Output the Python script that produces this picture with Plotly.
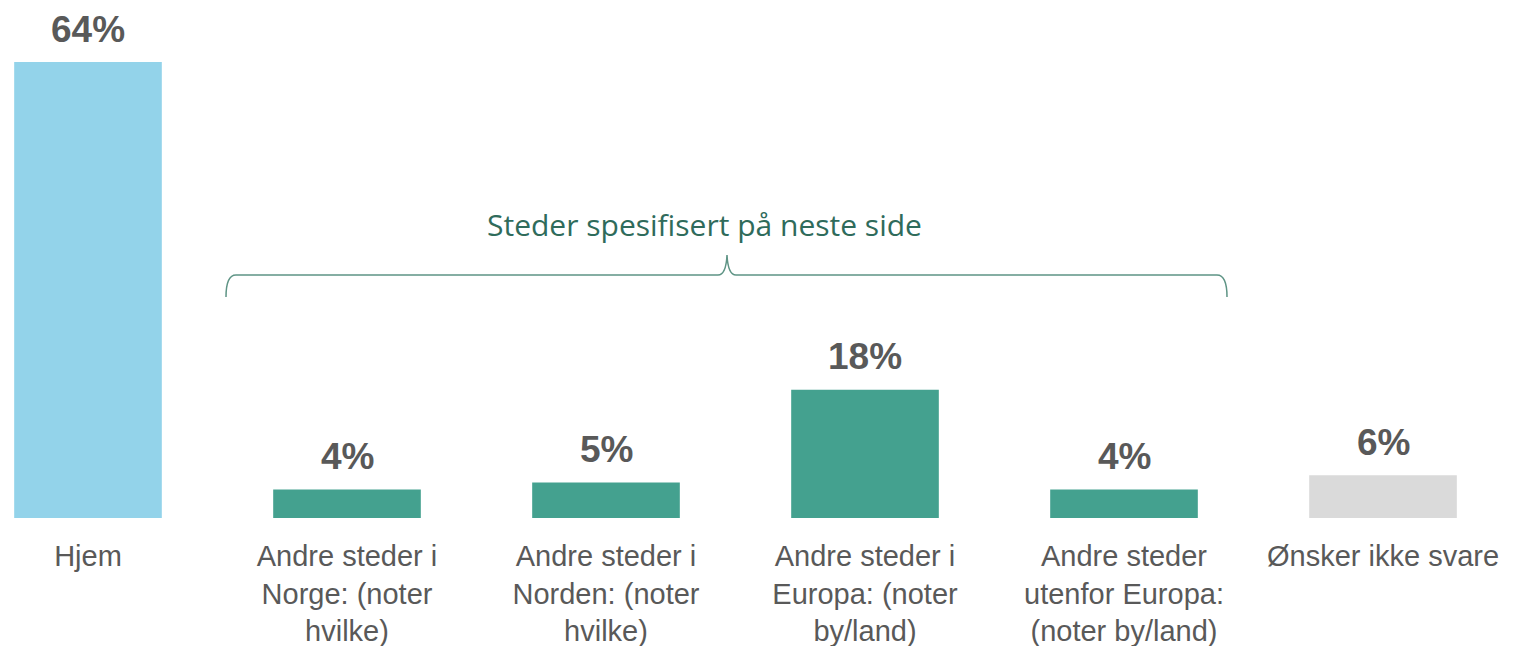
import plotly.graph_objects as go

categories = [
    "Hjem",
    "Andre steder i<br>Norge: (noter<br>hvilke)",
    "Andre steder i<br>Norden: (noter<br>hvilke)",
    "Andre steder i<br>Europa: (noter<br>by/land)",
    "Andre steder<br>utenfor Europa:<br>(noter by/land)",
    "Ønsker ikke svare",
]
values = [64, 4, 5, 18, 4, 6]
colors = ["#93D3EA", "#44A18F", "#44A18F", "#44A18F", "#44A18F", "#DADADA"]

# page body adds an 8px margin, so the figure itself is 8px smaller on each axis
OFF = 8
W, H = 1520 - OFF, 646 - OFF
PLOT_H = 518 - OFF  # baseline pixel inside the figure

fig = go.Figure(go.Bar(x=categories, y=values, marker_color=colors, marker_line_width=0))

for c, v in zip(categories, values):
    fig.add_annotation(x=c, y=v, text=f"<b>{v}%</b>", showarrow=False, yanchor="middle", yshift=33,
                       font=dict(family="Liberation Sans, Arial", size=37, color="#595959"))


def px(x, y):
    # reference-image pixel -> paper coords
    return f"{(x - OFF) / W:.5f},{(PLOT_H - (y - OFF)) / PLOT_H:.5f}"


# curly brace over the middle four bars
brace = ("M " + px(226, 297) + " Q " + px(226, 275) + " " + px(236, 275)
         + " L " + px(718, 275) + " Q " + px(726, 275) + " " + px(727, 255)
         + " Q " + px(728, 275) + " " + px(736, 275)
         + " L " + px(1217, 275) + " Q " + px(1227, 275) + " " + px(1227, 297))
fig.add_shape(type="path", path=brace, xref="paper", yref="paper",
              line=dict(color="#5E9485", width=1.5))
fig.add_annotation(x=(704 - OFF) / W, y=(PLOT_H - (224 - OFF)) / PLOT_H, xref="paper", yref="paper",
                   text="Steder spesifisert på neste side", showarrow=False,
                   font=dict(family="Open Sans", size=30, color="#2F6B5B"))

fig.update_layout(
    width=W, height=H,
    margin=dict(l=0, r=0, t=0, b=H - PLOT_H),
    paper_bgcolor="white", plot_bgcolor="white",
    bargap=0.43, showlegend=False,
    font=dict(family="Liberation Sans, Arial", color="#595959"),
)
x0 = 88 - OFF
fig.update_xaxes(range=[-x0 / 259, (W - x0) / 259], showline=False, showgrid=False, ticks="",
                 tickfont=dict(size=29, color="#595959"), ticklabelstandoff=18, automargin=False)
fig.update_yaxes(range=[0, PLOT_H / 7.125], visible=False)

fig.write_html("out.html")
